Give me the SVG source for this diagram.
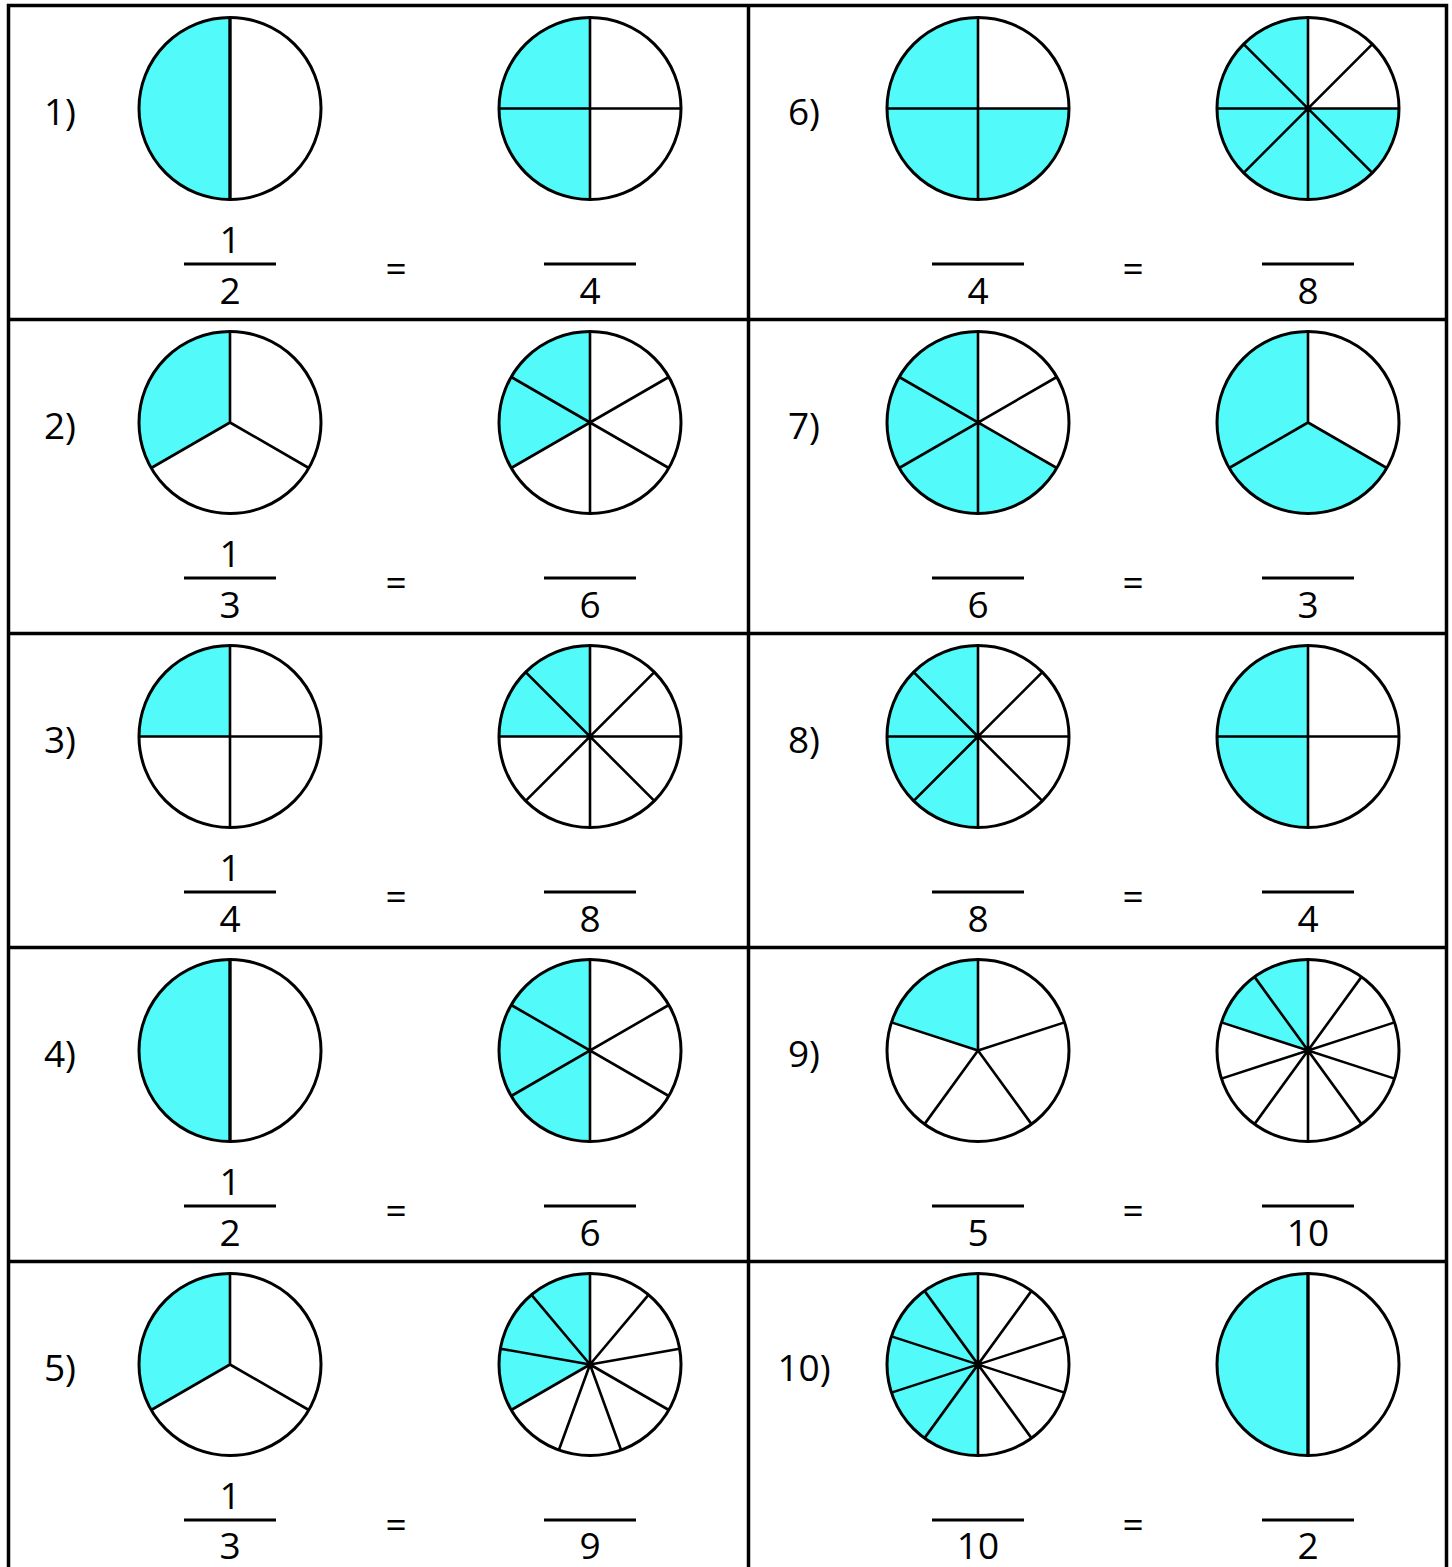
<svg xmlns="http://www.w3.org/2000/svg" width="1452" height="1567" viewBox="0 0 1452 1567">
<style>
.t{font-family:"Open Sans","Liberation Sans",sans-serif;font-size:37px;fill:#000;text-anchor:middle}
.bg{fill:#fff}
.sh{fill:#52FAFA;stroke:none}
.sp{fill:none;stroke:#000;stroke-width:2.6;stroke-linecap:butt}
.ol{fill:none;stroke:#000;stroke-width:3}
.fl{stroke:#000;stroke-width:3}
.grid{stroke:#000;stroke-width:3.5;fill:none}
</style>
<defs>
<circle id="bgc" class="bg" r="91"/>
<circle id="olc" class="ol" r="91"/>
<path id="sHalf" class="sh" d="M0,0 L0,91 A91,91 0 0 1 0,-91Z"/>
<path id="s240" class="sh" d="M0,0 L-78.81,45.5 A91,91 0 0 1 0,-91Z"/>
<path id="s270" class="sh" d="M0,0 L-91,0 A91,91 0 0 1 0,-91Z"/>
<path id="s90" class="sh" d="M0,0 L91,0 A91,91 0 1 1 0,-91Z"/>
<path id="s120" class="sh" d="M0,0 L78.81,45.5 A91,91 0 1 1 0,-91Z"/>
<path id="s288" class="sh" d="M0,0 L-86.55,-28.12 A91,91 0 0 1 0,-91Z"/>
<path id="d2" class="sp" style="stroke-width:3.4" d="M0,-91V91"/>
<path id="d3" class="sp" d="M0,0V-91M0,0L78.81,45.5M0,0L-78.81,45.5"/>
<path id="d4" class="sp" d="M0,-91V91M-91,0H91"/>
<path id="d5" class="sp" d="M0,0V-91M0,0L86.55,-28.12M0,0L53.49,73.62M0,0L-53.49,73.62M0,0L-86.55,-28.12"/>
<path id="d6" class="sp" d="M0,-91V91M78.81,-45.5L-78.81,45.5M78.81,45.5L-78.81,-45.5"/>
<path id="d8" class="sp" d="M0,-91V91M-91,0H91M64.35,-64.35L-64.35,64.35M64.35,64.35L-64.35,-64.35"/>
<path id="d9" class="sp" d="M0,0V-91M0,0L58.49,-69.71M0,0L89.62,-15.8M0,0L78.81,45.5M0,0L31.12,85.51M0,0L-31.12,85.51M0,0L-78.81,45.5M0,0L-89.62,-15.8M0,0L-58.49,-69.71"/>
<path id="d10" class="sp" d="M0,-91V91M53.49,-73.62L-53.49,73.62M86.55,-28.12L-86.55,28.12M86.55,28.12L-86.55,-28.12M53.49,73.62L-53.49,-73.62"/>
</defs>
<rect width="1452" height="1567" fill="#fff"/>
<g id="connectors">
<path class="grid" d="M8.5,1567V5.5H1446.5V1567M748.5,5.5V1567M8.5,319.5H1446.5M8.5,633.5H1446.5M8.5,947.5H1446.5M8.5,1261.5H1446.5"/>
</g>

<g id="p1">
<text class="t" x="60" y="125">1)</text>
<g transform="translate(230,108.5)"><use href="#bgc"/><use href="#sHalf"/><use href="#d2"/><use href="#olc"/></g>
<g transform="translate(590,108.5)"><use href="#bgc"/><use href="#sHalf"/><use href="#d4"/><use href="#olc"/></g>
<text class="t" x="230" y="253">1</text><line class="fl" x1="184" y1="264" x2="276" y2="264"/><text class="t" x="230" y="304">2</text>
<text class="t" x="396" y="282">=</text>
<line class="fl" x1="544" y1="264" x2="636" y2="264"/><text class="t" x="590" y="304">4</text>
</g>

<g id="p2" transform="translate(0,314)">
<text class="t" x="60" y="125">2)</text>
<g transform="translate(230,108.5)"><use href="#bgc"/><use href="#s240"/><use href="#d3"/><use href="#olc"/></g>
<g transform="translate(590,108.5)"><use href="#bgc"/><use href="#s240"/><use href="#d6"/><use href="#olc"/></g>
<text class="t" x="230" y="253">1</text><line class="fl" x1="184" y1="264" x2="276" y2="264"/><text class="t" x="230" y="304">3</text>
<text class="t" x="396" y="282">=</text>
<line class="fl" x1="544" y1="264" x2="636" y2="264"/><text class="t" x="590" y="304">6</text>
</g>

<g id="p3" transform="translate(0,628)">
<text class="t" x="60" y="125">3)</text>
<g transform="translate(230,108.5)"><use href="#bgc"/><use href="#s270"/><use href="#d4"/><use href="#olc"/></g>
<g transform="translate(590,108.5)"><use href="#bgc"/><use href="#s270"/><use href="#d8"/><use href="#olc"/></g>
<text class="t" x="230" y="253">1</text><line class="fl" x1="184" y1="264" x2="276" y2="264"/><text class="t" x="230" y="304">4</text>
<text class="t" x="396" y="282">=</text>
<line class="fl" x1="544" y1="264" x2="636" y2="264"/><text class="t" x="590" y="304">8</text>
</g>

<g id="p4" transform="translate(0,942)">
<text class="t" x="60" y="125">4)</text>
<g transform="translate(230,108.5)"><use href="#bgc"/><use href="#sHalf"/><use href="#d2"/><use href="#olc"/></g>
<g transform="translate(590,108.5)"><use href="#bgc"/><use href="#sHalf"/><use href="#d6"/><use href="#olc"/></g>
<text class="t" x="230" y="253">1</text><line class="fl" x1="184" y1="264" x2="276" y2="264"/><text class="t" x="230" y="304">2</text>
<text class="t" x="396" y="282">=</text>
<line class="fl" x1="544" y1="264" x2="636" y2="264"/><text class="t" x="590" y="304">6</text>
</g>

<g id="p5" transform="translate(0,1256)">
<text class="t" x="60" y="125">5)</text>
<g transform="translate(230,108.5)"><use href="#bgc"/><use href="#s240"/><use href="#d3"/><use href="#olc"/></g>
<g transform="translate(590,108.5)"><use href="#bgc"/><use href="#s240"/><use href="#d9"/><use href="#olc"/></g>
<text class="t" x="230" y="253">1</text><line class="fl" x1="184" y1="264" x2="276" y2="264"/><text class="t" x="230" y="303">3</text>
<text class="t" x="396" y="282">=</text>
<line class="fl" x1="544" y1="264" x2="636" y2="264"/><text class="t" x="590" y="303">9</text>
</g>

<g id="p6">
<text class="t" x="804" y="125">6)</text>
<g transform="translate(978,108.5)"><use href="#bgc"/><use href="#s90"/><use href="#d4"/><use href="#olc"/></g>
<g transform="translate(1308,108.5)"><use href="#bgc"/><use href="#s90"/><use href="#d8"/><use href="#olc"/></g>
<line class="fl" x1="932" y1="264" x2="1024" y2="264"/><text class="t" x="978" y="304">4</text>
<text class="t" x="1133" y="282">=</text>
<line class="fl" x1="1262" y1="264" x2="1354" y2="264"/><text class="t" x="1308" y="304">8</text>
</g>

<g id="p7" transform="translate(0,314)">
<text class="t" x="804" y="125">7)</text>
<g transform="translate(978,108.5)"><use href="#bgc"/><use href="#s120"/><use href="#d6"/><use href="#olc"/></g>
<g transform="translate(1308,108.5)"><use href="#bgc"/><use href="#s120"/><use href="#d3"/><use href="#olc"/></g>
<line class="fl" x1="932" y1="264" x2="1024" y2="264"/><text class="t" x="978" y="304">6</text>
<text class="t" x="1133" y="282">=</text>
<line class="fl" x1="1262" y1="264" x2="1354" y2="264"/><text class="t" x="1308" y="304">3</text>
</g>

<g id="p8" transform="translate(0,628)">
<text class="t" x="804" y="125">8)</text>
<g transform="translate(978,108.5)"><use href="#bgc"/><use href="#sHalf"/><use href="#d8"/><use href="#olc"/></g>
<g transform="translate(1308,108.5)"><use href="#bgc"/><use href="#sHalf"/><use href="#d4"/><use href="#olc"/></g>
<line class="fl" x1="932" y1="264" x2="1024" y2="264"/><text class="t" x="978" y="304">8</text>
<text class="t" x="1133" y="282">=</text>
<line class="fl" x1="1262" y1="264" x2="1354" y2="264"/><text class="t" x="1308" y="304">4</text>
</g>

<g id="p9" transform="translate(0,942)">
<text class="t" x="804" y="125">9)</text>
<g transform="translate(978,108.5)"><use href="#bgc"/><use href="#s288"/><use href="#d5"/><use href="#olc"/></g>
<g transform="translate(1308,108.5)"><use href="#bgc"/><use href="#s288"/><use href="#d10"/><use href="#olc"/></g>
<line class="fl" x1="932" y1="264" x2="1024" y2="264"/><text class="t" x="978" y="304">5</text>
<text class="t" x="1133" y="282">=</text>
<line class="fl" x1="1262" y1="264" x2="1354" y2="264"/><text class="t" x="1308" y="304">10</text>
</g>

<g id="p10" transform="translate(0,1256)">
<text class="t" x="804" y="125">10)</text>
<g transform="translate(978,108.5)"><use href="#bgc"/><use href="#sHalf"/><use href="#d10"/><use href="#olc"/></g>
<g transform="translate(1308,108.5)"><use href="#bgc"/><use href="#sHalf"/><use href="#d2"/><use href="#olc"/></g>
<line class="fl" x1="932" y1="264" x2="1024" y2="264"/><text class="t" x="978" y="303">10</text>
<text class="t" x="1133" y="282">=</text>
<line class="fl" x1="1262" y1="264" x2="1354" y2="264"/><text class="t" x="1308" y="303">2</text>
</g>
</svg>
